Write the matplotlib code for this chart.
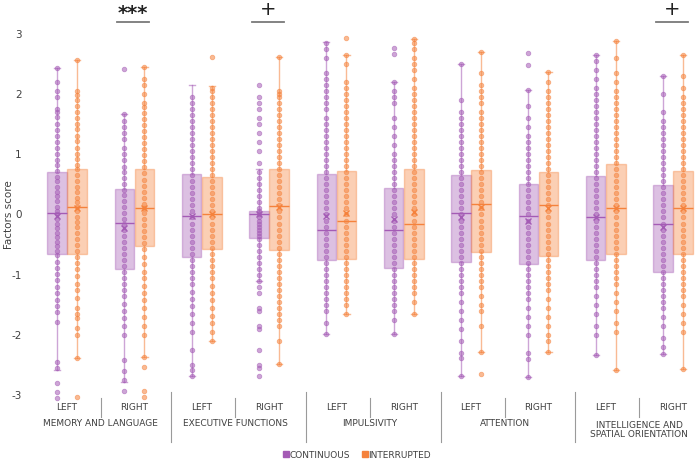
import matplotlib
matplotlib.use("Agg")
import matplotlib.pyplot as plt
from matplotlib.lines import Line2D
from matplotlib.transforms import blended_transform_factory

# ---------------- data ----------------
factors = ["MEMORY AND LANGUAGE", "EXECUTIVE FUNCTIONS", "IMPULSIVITY",
           "ATTENTION", "INTELLIGENCE AND\nSPATIAL ORIENTATION"]
sides = ["LEFT", "RIGHT"]
series_names = ["CONTINUOUS", "INTERRUPTED"]
yticks = [3, 2, 1, 0, -1, -2, -3]
sig_labels = {1: "***", 3: "+", 9: "+"}

# box statistics (10 subgroups: factor x side)
cont_q3 = [0.70, 0.42, 0.67, 0.06, 0.67, 0.44, 0.66, 0.51, 0.64, 0.49]
cont_med = [0.02, -0.14, -0.02, 0.00, -0.26, -0.26, 0.02, -0.02, -0.05, -0.16]
cont_q1 = [-0.66, -0.90, -0.70, -0.39, -0.76, -0.88, -0.79, -0.82, -0.75, -0.96]
cont_hi = [2.43, 1.67, 2.15, 0.75, 2.86, 2.20, 2.50, 2.07, 2.64, 2.30]
cont_lo = [-2.58, -2.78, -2.68, -1.10, -1.98, -1.98, -2.68, -2.69, -2.33, -2.32]
cont_mean = [-0.03, -0.22, -0.03, 0.00, -0.03, -0.07, -0.05, -0.10, -0.05, -0.20]

int_q3 = [0.75, 0.75, 0.62, 0.75, 0.72, 0.75, 0.74, 0.71, 0.84, 0.72]
int_med = [0.12, 0.11, 0.00, 0.14, -0.11, -0.16, 0.17, 0.15, 0.10, 0.11]
int_q1 = [-0.66, -0.52, -0.57, -0.59, -0.74, -0.74, -0.62, -0.69, -0.66, -0.66]
int_hi = [2.56, 2.45, 2.13, 2.62, 2.65, 2.91, 2.70, 2.36, 2.87, 2.64]
int_lo = [-2.38, -2.36, -2.10, -2.48, -1.65, -1.65, -2.28, -2.28, -2.58, -2.57]
int_mean = [0.10, 0.10, 0.00, 0.13, 0.02, 0.04, 0.12, 0.10, 0.10, 0.10]

# individual scores
cont_pts = [
    [2.43, 2.2, 2.05, 1.95, 1.75, 1.7, 1.62, 1.5, 1.4, 1.3, 1.2, 1.1, 1.0, 0.9, 0.82, 0.72, 0.62, 0.55, 0.45, 0.38, 0.3, 0.22, 0.12, 0.05, 0.0, -0.08, -0.15, -0.22, -0.3, -0.38, -0.45, -0.52, -0.6, -0.68, -0.78, -0.88, -0.98, -1.08, -1.2, -1.3, -1.42, -1.52, -1.62, -1.78, -2.45, -2.55, -2.8, -2.95, -3.05],
    [2.42, 1.67, 1.55, 1.45, 1.35, 1.25, 1.1, 1.0, 0.9, 0.78, 0.7, 0.6, 0.5, 0.4, 0.32, 0.22, 0.12, 0.02, -0.08, -0.16, -0.25, -0.35, -0.45, -0.55, -0.65, -0.75, -0.85, -0.95, -1.05, -1.15, -1.25, -1.35, -1.48, -1.6, -1.72, -1.85, -2.0, -2.42, -2.6, -2.75, -2.93],
    [1.95, 1.85, 1.75, 1.65, 1.55, 1.45, 1.35, 1.25, 1.15, 1.05, 0.95, 0.85, 0.75, 0.65, 0.55, 0.45, 0.35, 0.25, 0.15, 0.05, -0.05, -0.15, -0.25, -0.35, -0.45, -0.55, -0.65, -0.75, -0.85, -0.95, -1.05, -1.15, -1.28, -1.4, -1.52, -1.65, -1.8, -1.95, -2.25, -2.5, -2.58, -2.68],
    [2.15, 1.95, 1.85, 1.75, 1.6, 1.5, 1.35, 1.2, 1.05, 0.85, 0.7, 0.6, 0.5, 0.4, 0.3, 0.2, 0.1, 0.05, 0.0, -0.05, -0.1, -0.15, -0.2, -0.25, -0.3, -0.35, -0.4, -0.5, -0.6, -0.7, -0.8, -0.9, -1.0, -1.1, -1.2, -1.3, -1.55, -1.6, -1.85, -1.9, -2.25, -2.5, -2.55, -2.68],
    [2.85, 2.75, 2.6, 2.35, 2.25, 2.15, 2.05, 1.95, 1.85, 1.75, 1.6, 1.5, 1.4, 1.3, 1.2, 1.1, 1.0, 0.9, 0.8, 0.7, 0.6, 0.5, 0.4, 0.3, 0.2, 0.1, 0.0, -0.1, -0.2, -0.3, -0.4, -0.5, -0.6, -0.7, -0.8, -0.9, -1.0, -1.1, -1.2, -1.3, -1.4, -1.5, -1.6, -1.8, -1.98],
    [2.76, 2.66, 2.2, 2.05, 1.95, 1.85, 1.6, 1.45, 1.3, 1.15, 1.0, 0.9, 0.8, 0.7, 0.6, 0.5, 0.4, 0.3, 0.2, 0.1, 0.0, -0.1, -0.2, -0.3, -0.4, -0.5, -0.6, -0.7, -0.8, -0.9, -1.0, -1.1, -1.2, -1.3, -1.4, -1.5, -1.6, -1.75, -1.98],
    [2.5, 1.9, 1.7, 1.6, 1.5, 1.4, 1.3, 1.2, 1.1, 1.0, 0.9, 0.8, 0.7, 0.6, 0.5, 0.4, 0.3, 0.2, 0.1, 0.0, -0.1, -0.2, -0.3, -0.4, -0.5, -0.6, -0.7, -0.8, -0.9, -1.0, -1.1, -1.2, -1.3, -1.45, -1.6, -1.75, -1.9, -2.1, -2.3, -2.38, -2.68],
    [2.67, 2.48, 2.07, 1.8, 1.6, 1.45, 1.3, 1.2, 1.1, 1.0, 0.9, 0.8, 0.7, 0.6, 0.5, 0.4, 0.3, 0.2, 0.1, 0.0, -0.1, -0.2, -0.3, -0.4, -0.5, -0.6, -0.7, -0.8, -0.9, -1.0, -1.1, -1.2, -1.3, -1.4, -1.55, -1.7, -1.85, -2.0, -2.3, -2.4, -2.69],
    [2.64, 2.55, 2.4, 2.25, 2.1, 2.0, 1.9, 1.8, 1.7, 1.6, 1.5, 1.4, 1.3, 1.2, 1.1, 1.0, 0.9, 0.8, 0.7, 0.6, 0.5, 0.4, 0.3, 0.2, 0.1, 0.0, -0.1, -0.2, -0.3, -0.4, -0.5, -0.6, -0.7, -0.8, -0.9, -1.0, -1.1, -1.2, -1.35, -1.5, -1.65, -1.85, -2.0, -2.33],
    [2.3, 2.0, 1.7, 1.55, 1.45, 1.35, 1.25, 1.15, 1.05, 0.95, 0.85, 0.75, 0.65, 0.55, 0.45, 0.35, 0.25, 0.15, 0.05, -0.05, -0.15, -0.25, -0.35, -0.45, -0.55, -0.65, -0.75, -0.85, -0.95, -1.05, -1.15, -1.25, -1.35, -1.45, -1.55, -1.7, -1.85, -2.05, -2.2, -2.32],
]
int_pts = [
    [2.56, 2.05, 1.98, 1.9, 1.8, 1.7, 1.6, 1.5, 1.42, 1.3, 1.22, 1.1, 1.0, 0.92, 0.82, 0.75, 0.65, 0.55, 0.45, 0.38, 0.28, 0.2, 0.12, 0.05, -0.05, -0.12, -0.2, -0.3, -0.4, -0.5, -0.6, -0.7, -0.8, -0.9, -1.02, -1.15, -1.25, -1.38, -1.55, -1.65, -1.72, -1.88, -2.0, -2.38, -3.02],
    [2.45, 2.25, 2.15, 2.0, 1.85, 1.78, 1.68, 1.58, 1.48, 1.38, 1.28, 1.18, 1.08, 0.98, 0.88, 0.78, 0.68, 0.58, 0.48, 0.38, 0.28, 0.18, 0.1, 0.02, -0.08, -0.18, -0.28, -0.38, -0.48, -0.58, -0.7, -0.82, -0.95, -1.05, -1.18, -1.3, -1.42, -1.55, -1.7, -1.85, -2.0, -2.36, -2.53, -2.93, -3.02],
    [2.62, 2.1, 2.05, 1.95, 1.85, 1.75, 1.65, 1.55, 1.45, 1.35, 1.25, 1.15, 1.05, 0.95, 0.85, 0.75, 0.65, 0.55, 0.45, 0.35, 0.25, 0.15, 0.05, -0.05, -0.15, -0.25, -0.35, -0.45, -0.55, -0.65, -0.75, -0.85, -0.95, -1.05, -1.18, -1.3, -1.42, -1.55, -1.68, -1.8, -1.95, -2.1],
    [2.62, 2.05, 2.0, 1.95, 1.85, 1.75, 1.65, 1.55, 1.45, 1.35, 1.25, 1.15, 1.05, 0.95, 0.85, 0.75, 0.65, 0.55, 0.45, 0.35, 0.25, 0.15, 0.05, -0.05, -0.15, -0.25, -0.35, -0.45, -0.55, -0.65, -0.75, -0.85, -0.95, -1.05, -1.15, -1.25, -1.35, -1.45, -1.55, -1.65, -1.75, -1.85, -2.1, -2.48],
    [2.93, 2.65, 2.5, 2.2, 2.1, 2.0, 1.9, 1.8, 1.7, 1.6, 1.5, 1.4, 1.3, 1.2, 1.1, 1.0, 0.9, 0.8, 0.7, 0.6, 0.5, 0.4, 0.3, 0.2, 0.1, 0.0, -0.1, -0.2, -0.3, -0.4, -0.5, -0.6, -0.7, -0.8, -0.9, -1.0, -1.1, -1.2, -1.3, -1.4, -1.5, -1.65],
    [2.91, 2.85, 2.75, 2.6, 2.5, 2.4, 2.25, 2.1, 2.0, 1.9, 1.8, 1.7, 1.6, 1.5, 1.4, 1.3, 1.2, 1.1, 1.0, 0.9, 0.8, 0.7, 0.6, 0.5, 0.4, 0.3, 0.2, 0.1, 0.0, -0.1, -0.2, -0.3, -0.4, -0.5, -0.6, -0.7, -0.8, -0.9, -1.0, -1.1, -1.2, -1.3, -1.45, -1.65],
    [2.7, 2.35, 2.15, 2.05, 1.95, 1.85, 1.7, 1.6, 1.5, 1.4, 1.3, 1.2, 1.1, 1.0, 0.9, 0.8, 0.7, 0.6, 0.5, 0.4, 0.3, 0.2, 0.1, 0.0, -0.1, -0.2, -0.3, -0.4, -0.5, -0.6, -0.7, -0.8, -0.9, -1.0, -1.1, -1.2, -1.35, -1.5, -1.6, -1.85, -2.28, -2.65],
    [2.36, 2.2, 2.05, 1.95, 1.85, 1.75, 1.65, 1.55, 1.45, 1.35, 1.25, 1.15, 1.05, 0.95, 0.85, 0.75, 0.65, 0.55, 0.45, 0.35, 0.25, 0.15, 0.05, -0.05, -0.15, -0.25, -0.35, -0.45, -0.55, -0.65, -0.75, -0.85, -0.95, -1.05, -1.15, -1.25, -1.4, -1.55, -1.7, -1.85, -2.0, -2.1, -2.28],
    [2.87, 2.6, 2.35, 2.2, 2.05, 1.95, 1.85, 1.75, 1.65, 1.55, 1.45, 1.35, 1.25, 1.15, 1.05, 0.95, 0.85, 0.75, 0.65, 0.55, 0.45, 0.35, 0.25, 0.15, 0.05, -0.05, -0.15, -0.25, -0.35, -0.45, -0.55, -0.65, -0.75, -0.85, -0.95, -1.05, -1.15, -1.3, -1.45, -1.6, -1.8, -1.95, -2.58],
    [2.64, 2.3, 2.1, 1.95, 1.85, 1.75, 1.65, 1.55, 1.45, 1.35, 1.25, 1.15, 1.05, 0.95, 0.85, 0.75, 0.65, 0.55, 0.45, 0.35, 0.25, 0.15, 0.05, -0.05, -0.15, -0.25, -0.35, -0.45, -0.55, -0.65, -0.75, -0.85, -0.95, -1.05, -1.15, -1.25, -1.35, -1.5, -1.65, -1.8, -1.95, -2.57],
]

# ---------------- style ----------------
PURPLE = "#a45bb5"
ORANGE = "#f5823c"
TXT = "#404040"
GRID_C = "#9a9a9a"

W, H = 700, 462
fig = plt.figure(figsize=(7.0, 4.62), dpi=100)
top_px, bot_px = 3.45, 401.4
ax = fig.add_axes([30 / W, 1 - bot_px / H, 670 / W, (bot_px - top_px) / H])
ax.set_ylim(-3.1, 3.5)
ax.set_xlim(-0.55, 9.4)

off, bw = 0.15, 0.29
n = len(cont_q3)


def make_stats(q1, med, q3, lo, hi, mean):
    return [dict(q1=q1[i], med=med[i], q3=q3[i], whislo=lo[i], whishi=hi[i],
                 mean=mean[i], fliers=[]) for i in range(len(q1))]


series = [
    (PURPLE, -off, make_stats(cont_q1, cont_med, cont_q3, cont_lo, cont_hi, cont_mean), cont_pts),
    (ORANGE, off, make_stats(int_q1, int_med, int_q3, int_lo, int_hi, int_mean), int_pts),
]

for color, dx, stats, pts in series:
    pos = [i + dx for i in range(n)]
    bp = ax.bxp(stats, positions=pos, widths=bw, patch_artist=True,
                showmeans=True, showfliers=False, capwidths=0.09,
                boxprops=dict(facecolor=color, edgecolor=color, linewidth=1.0, alpha=0.38),
                medianprops=dict(color=color, linewidth=1.0),
                whiskerprops=dict(color=color, linewidth=1.0, alpha=0.55),
                capprops=dict(color=color, linewidth=1.0, alpha=0.55),
                meanprops=dict(marker="x", markeredgecolor=color, markersize=5, markeredgewidth=1.0))
    for b in bp["boxes"]:
        b.set_edgecolor(color)
    for i, vals in enumerate(pts):
        ax.plot([pos[i]] * len(vals), vals, linestyle="none", marker="o",
                markersize=3.3, markerfacecolor=color, markeredgecolor=color,
                markeredgewidth=0.6, alpha=0.55, zorder=3)

# axes decoration
for s in ax.spines.values():
    s.set_visible(False)
ax.set_yticks(yticks)
ax.set_yticklabels([str(t) for t in yticks])
ax.tick_params(axis="y", length=0, pad=6, labelsize=7.5, labelcolor=TXT)
ax.set_xticks([])
fig.text(9 / W, 1 - 215 / H, "Factors score", rotation=90, ha="center", va="center",
         fontsize=7.5, color=TXT)

# significance marks
for idx, lab in sig_labels.items():
    ax.plot([idx - 0.26, idx + 0.22], [3.19, 3.19], color="#7a7a7a", linewidth=1.3,
            clip_on=False)
    if lab == "***":
        ax.text(idx - 0.02, 3.33, lab, ha="center", va="center", fontsize=14,
                fontweight="bold", color="#222222", clip_on=False)
    else:
        ax.text(idx - 0.02, 3.40, lab, ha="center", va="center", fontsize=14,
                color="#222222", clip_on=False)

# bottom category labels with separators
tr = blended_transform_factory(ax.transData, fig.transFigure)
for g, fname in enumerate(factors):
    for k, sname in enumerate(sides):
        i = 2 * g + k
        ax.text(i, 1 - 407 / H, sname, transform=tr, ha="center", va="center",
                fontsize=6.5, color=TXT)
    ax.text(2 * g + 0.5, 1 - (424 if "\n" not in fname else 430) / H, fname,
            transform=tr, ha="center", va="center", fontsize=6.5, color=TXT,
            linespacing=1.05)
    ax.plot([2 * g + 0.5, 2 * g + 0.5], [1 - 398 / H, 1 - 417 / H], transform=tr,
            color=GRID_C, linewidth=0.8, clip_on=False)
    if g < len(factors) - 1:
        ax.plot([2 * g + 1.55, 2 * g + 1.55], [1 - 392 / H, 1 - 442 / H], transform=tr,
                color=GRID_C, linewidth=0.8, clip_on=False)

# legend
handles = [Line2D([], [], linestyle="none", marker="s", markersize=4,
                  markerfacecolor=c, markeredgecolor=c) for c in (PURPLE, ORANGE)]
fig.legend(handles, series_names, loc="center", bbox_to_anchor=(0.51, 1 - 455 / H),
           ncol=2, frameon=False, fontsize=6.5, labelcolor=TXT, handlelength=0.5,
           handletextpad=0.1, columnspacing=1.4, borderpad=0)

fig.savefig("out.png", dpi=100, facecolor="white")
